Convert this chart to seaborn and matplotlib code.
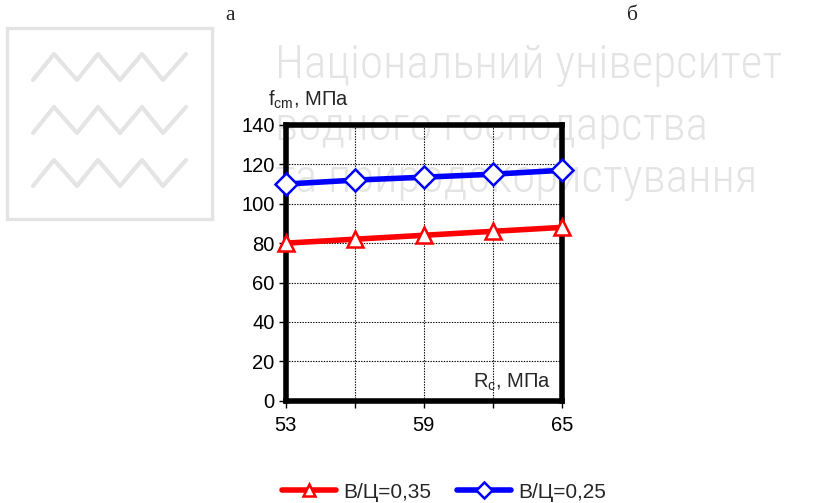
import matplotlib
matplotlib.use("Agg")
import matplotlib.pyplot as plt
from matplotlib.lines import Line2D
import seaborn as sns
import pandas as pd

# ---- data ----
rc_values = [53, 56, 59, 62, 65]
wc035 = [80, 82, 84, 86, 88]
wc025 = [110, 112, 113.5, 115, 117]
series_names = ["В/Ц=0,35", "В/Ц=0,25"]
x_ticks = [53, 59, 65]
y_ticks = [0, 20, 40, 60, 80, 100, 120, 140]

df = pd.DataFrame({
    "Rc": rc_values * 2,
    "fcm": wc035 + wc025,
    "series": [series_names[0]] * len(rc_values) + [series_names[1]] * len(rc_values),
})

sns.set_theme(style="white")
plt.rcParams["font.family"] = ["Liberation Sans", "DejaVu Sans"]
plt.rcParams["mathtext.fontset"] = "custom"
plt.rcParams["mathtext.rm"] = "Liberation Sans"
plt.rcParams["mathtext.it"] = "Liberation Sans"

fig = plt.figure(figsize=(8.35, 5.03), dpi=100)
fig.patch.set_facecolor("white")

# ---- watermark ----
wm = "#e4e4e4"
fig.add_artist(plt.Rectangle((7 / 835, 1 - 219 / 503), 205 / 835, 191 / 503,
                             transform=fig.transFigure, fill=False,
                             edgecolor=wm, linewidth=2.4, zorder=-5))
zx = [33, 54, 77, 98, 120, 142, 163, 186]
for off in [0, 53, 106]:
    zy = [80 + off if i % 2 == 0 else 54 + off for i in range(len(zx))]
    fig.add_artist(Line2D([v / 835 for v in zx], [1 - v / 503 for v in zy],
                          transform=fig.transFigure, color=wm, linewidth=3,
                          zorder=-5))
wm_lines = ["Національний університет", "водного господарства", "та природокористування"]
for txt, base in zip(wm_lines, [78, 140, 192]):
    fig.text(275 / 835, 1 - base / 503, txt, fontsize=34, color=wm,
             family=["Roboto Condensed", "DejaVu Sans"], weight="light",
             va="baseline", ha="left", zorder=-5)

fig.text(230 / 835, 1 - 15 / 503, "а", fontsize=15.5, family=["Liberation Serif"],
         ha="center", va="center")
fig.text(632 / 835, 1 - 15 / 503, "б", fontsize=15.5, family=["Liberation Serif"],
         ha="center", va="center")

# ---- chart ----
ax = fig.add_axes([285.7 / 835, 1 - 400.7 / 503, 276 / 835, 275.7 / 503])
ax.set_facecolor("none")

sns.lineplot(data=df, x="Rc", y="fcm", hue="series", style="series",
             palette={series_names[0]: "#ff0000", series_names[1]: "#0000ff"},
             markers={series_names[0]: "^", series_names[1]: "D"},
             dashes=False, linewidth=4, markersize=11, markerfacecolor="white",
             markeredgewidth=1.8, legend=False, ax=ax, clip_on=False, zorder=5)
for ln, c in zip(ax.lines, ["#ff0000", "#0000ff"]):
    ln.set_markeredgecolor(c)
    ln.set_clip_on(False)
ax.lines[0].set_markersize(12)
ax.lines[1].set_markersize(11)

ax.set_xlim(53, 65)
ax.set_ylim(0, 140)
ax.set_xticks(rc_values)
ax.set_xticklabels([str(v) if v in x_ticks else "" for v in rc_values])
ax.set_yticks(y_ticks)
ax.set_yticklabels([str(v) for v in y_ticks])
ax.tick_params(axis="both", which="both", direction="out", length=5, width=1,
               color="black", labelsize=14.5, labelcolor="black", pad=3,
               bottom=True, left=True)
ax.tick_params(axis="x", pad=6)
ax.grid(True, color="black", linestyle=(0, (1.2, 1.2)), linewidth=0.8)
ax.set_axisbelow(True)
for sp in ax.spines.values():
    sp.set_visible(True)
    sp.set_color("black")
    sp.set_linewidth(4)
    sp.set_zorder(4)
ax.set_xlabel("")
ax.set_ylabel("")

fig.text(268 / 835, 1 - 100 / 503, r"$\mathregular{f_{cm}}$, МПа", fontsize=14.5,
         ha="left", va="center")
ax.text(0.96, 0.065, r"$\mathregular{R_{c}}$, МПа", transform=ax.transAxes,
        fontsize=14.5, ha="right", va="center")

handles = [ax.lines[0], ax.lines[1]]
fig.legend(handles, series_names, loc="center", bbox_to_anchor=(444 / 835, 1 - 492 / 503),
           ncol=2, frameon=False, fontsize=15, handlelength=2.6,
           handletextpad=0.35, columnspacing=1.2, markerscale=0.75)

fig.savefig("out.png", dpi=100)
